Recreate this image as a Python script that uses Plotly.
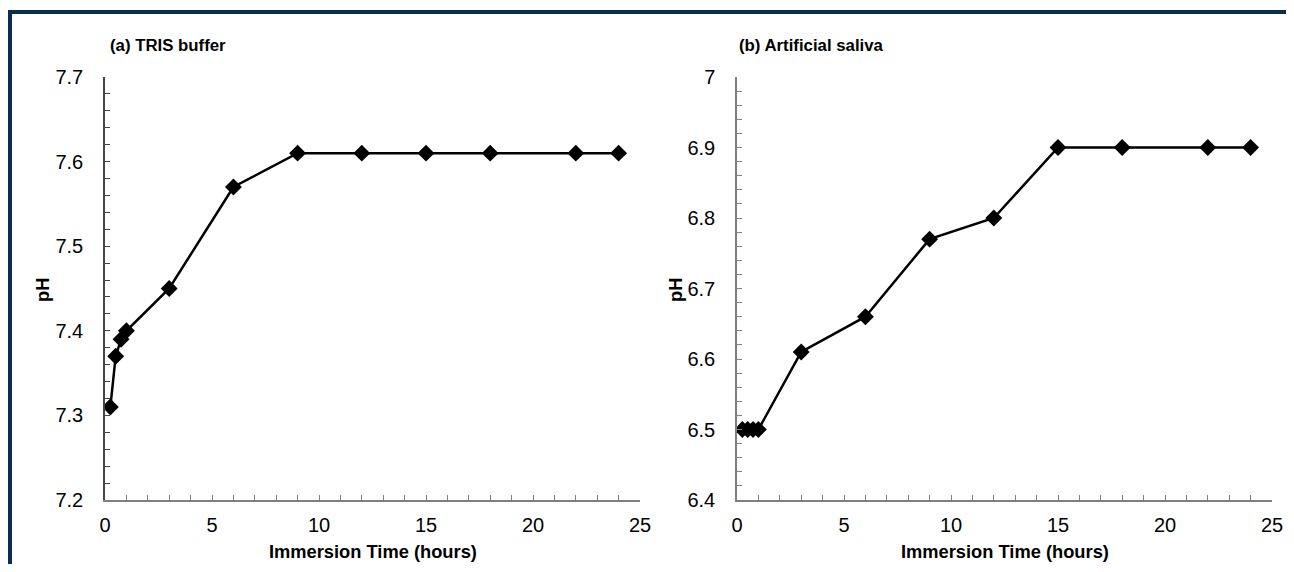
import plotly.graph_objects as go

# ---- data ----
time_hours = [0.25, 0.5, 0.75, 1, 3, 6, 9, 12, 15, 18, 22, 24]
ph_tris = [7.31, 7.37, 7.39, 7.40, 7.45, 7.57, 7.61, 7.61, 7.61, 7.61, 7.61, 7.61]
ph_saliva = [6.50, 6.50, 6.50, 6.50, 6.61, 6.66, 6.77, 6.80, 6.90, 6.90, 6.90, 6.90]

x_ticks = [0, 5, 10, 15, 20, 25]
y_ticks_a = [7.2, 7.3, 7.4, 7.5, 7.6, 7.7]
y_labels_a = ["7.2", "7.3", "7.4", "7.5", "7.6", "7.7"]
y_ticks_b = [6.4, 6.5, 6.6, 6.7, 6.8, 6.9, 7.0]
y_labels_b = ["6.4", "6.5", "6.6", "6.7", "6.8", "6.9", "7"]

panel_titles = ["(a) TRIS buffer", "(b) Artificial saliva"]
x_title = "Immersion Time (hours)"
y_title = "pH"

# page has an 8px body margin; figure fills the rest of the 1294x572 window
OFF = 8
W, H = 1294 - 2 * OFF, 572 - 2 * OFF
FONT = "Liberation Sans, Arial, sans-serif"
AX = "#808080"
AX_DARK = "#454545"

def px(x):
    return (x - OFF) / W

def py(y):
    return 1 - (y - OFF) / H

fig = go.Figure()
line_style = dict(color="black", width=2.5)
marker_style = dict(symbol="diamond", size=13, color="black")

fig.add_trace(go.Scatter(x=time_hours, y=ph_tris, mode="lines+markers",
                         line=line_style, marker=marker_style,
                         xaxis="x", yaxis="y", showlegend=False))
fig.add_trace(go.Scatter(x=time_hours, y=ph_saliva, mode="lines+markers",
                         line=line_style, marker=marker_style,
                         xaxis="x2", yaxis="y2", showlegend=False))

xa_common = dict(range=[0, 25], tickvals=x_ticks, ticks="inside", ticklen=5,
                 tickcolor=AX, showline=True, linecolor=AX, linewidth=1.5,
                 showgrid=False, zeroline=False, automargin=False,
                 minor=dict(dtick=1, ticks="inside", ticklen=5, tickcolor=AX, showgrid=False),
                 tickfont=dict(family=FONT, size=20, color="black"),
                 ticklabelstandoff=6)
ya_common = dict(ticks="inside", ticklen=5, showline=True,
                 linewidth=1.5, showgrid=False, zeroline=False,
                 automargin=False,
                 tickfont=dict(family=FONT, size=20, color="black"),
                 ticklabelstandoff=16)

ydom = [py(500), py(77)]
fig.update_layout(
    width=W, height=H, autosize=False,
    margin=dict(l=0, r=0, t=0, b=0, pad=0, autoexpand=False),
    paper_bgcolor="white", plot_bgcolor="white",
    xaxis=dict(domain=[px(105), px(640)], anchor="y", **xa_common),
    yaxis=dict(domain=ydom, anchor="x", range=[7.2, 7.7], tickvals=y_ticks_a,
               ticktext=y_labels_a, linecolor=AX_DARK, tickcolor=AX_DARK,
               minor=dict(dtick=0.02, ticks="inside", ticklen=5, tickcolor=AX_DARK, showgrid=False),
               **ya_common),
    xaxis2=dict(domain=[px(737), px(1272)], anchor="y2", **xa_common),
    yaxis2=dict(domain=ydom, anchor="x2", range=[6.4, 7.0], tickvals=y_ticks_b,
                ticktext=y_labels_b, linecolor=AX, tickcolor=AX,
                minor=dict(dtick=0.02, ticks="inside", ticklen=5, tickcolor=AX, showgrid=False),
                **ya_common),
)

ann = []
for xc, title in zip([px(108), px(737)], panel_titles):
    ann.append(dict(text="<b>%s</b>" % title, x=xc, y=py(45), xref="paper", yref="paper",
                    xanchor="left", yanchor="middle", showarrow=False,
                    font=dict(family=FONT, size=16.8, color="black")))
for xc in [px(373), px(1005)]:
    ann.append(dict(text="<b>%s</b>" % x_title, x=xc, y=py(551), xref="paper", yref="paper",
                    xanchor="center", yanchor="middle", showarrow=False,
                    font=dict(family=FONT, size=18.3, color="black")))
for xc in [px(42), px(675)]:
    ann.append(dict(text="<b>%s</b>" % y_title, x=xc, y=py(290), xref="paper", yref="paper",
                    xanchor="center", yanchor="middle", showarrow=False, textangle=-90,
                    font=dict(family=FONT, size=18.3, color="black")))
fig.update_layout(annotations=ann)

border = "#0b2e4f"
fig.update_layout(shapes=[
    dict(type="rect", xref="paper", yref="paper", x0=px(7), x1=px(1294), y0=py(14), y1=py(10),
         fillcolor=border, line=dict(width=0), layer="above"),
    dict(type="rect", xref="paper", yref="paper", x0=px(7), x1=px(12), y0=py(572), y1=py(10),
         fillcolor=border, line=dict(width=0), layer="above"),
])

fig.write_html("out.html")
